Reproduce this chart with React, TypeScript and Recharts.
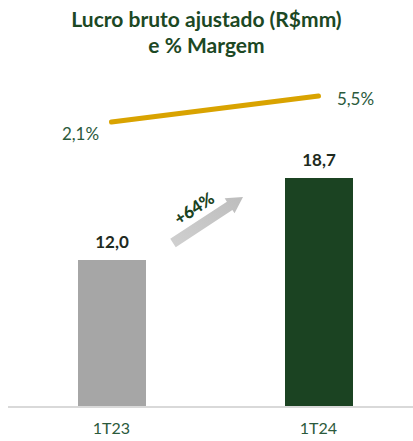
import React from 'react';
import { ComposedChart, Bar, Line, XAxis, YAxis, LabelList, Cell } from 'recharts';

const categories = ['1T23', '1T24'];
const lucroBruto = [12.0, 18.7];
const margem = [2.1, 5.5];
const barColors = ['#a6a6a6', '#1b4322'];
const growthLabel = '+64%';
const titleLines = ['Lucro bruto ajustado (R$mm)', 'e % Margem'];

const data = categories.map((c, i) => ({ cat: c, lucro: lucroBruto[i], margem: margem[i] }));

const FONT = 'Lato, "Open Sans", sans-serif';
const GREEN_TEXT = '#2b5a3c';
const fmt = (v: number, d: number) => v.toFixed(d).replace('.', ',');

const BarLabel = (props: any) => {
  const { x, y, width, value, index } = props;
  const cx = x + width / 2;
  const out: React.ReactNode[] = [
    <text key="v" x={cx} y={y - 12} textAnchor="middle" fontFamily={FONT} fontWeight={700} fontSize={17} fill="#1e2a20">
      {fmt(value, 1)}
    </text>,
  ];
  if (index === 0) {
    const tx = x + width + 27, ty = y - 17;
    const hx = x + width + 97, hy = y - 63;
    const dx = hx - tx, dy = hy - ty;
    const L = Math.sqrt(dx * dx + dy * dy);
    const ux = dx / L, uy = dy / L;
    const px = -uy, py = ux;
    const sw = 5, hw = 9, hl = 16;
    const bx = hx - ux * hl, by = hy - uy * hl;
    const pts = [
      [tx + px * sw, ty + py * sw],
      [bx + px * sw, by + py * sw],
      [bx + px * hw, by + py * hw],
      [hx, hy],
      [bx - px * hw, by - py * hw],
      [bx - px * sw, by - py * sw],
      [tx - px * sw, ty - py * sw],
    ].map((p) => p.join(',')).join(' ');
    const ang = (Math.atan2(dy, dx) * 180) / Math.PI;
    const lx = x + width + 48, ly = y - 52;
    out.push(
      <defs key="g">
        <linearGradient id="arrowGrad" x1="0" y1="1" x2="1" y2="0">
          <stop offset="0%" stopColor="#d0d0d0" />
          <stop offset="100%" stopColor="#bdbdbd" />
        </linearGradient>
      </defs>,
      <polygon key="a" points={pts} fill="url(#arrowGrad)" />,
      <text key="t" x={lx} y={ly} textAnchor="middle" dominantBaseline="central" transform={`rotate(${ang} ${lx} ${ly})`} fontFamily={FONT} fontWeight={900} fontSize={17} fill="#1b4322">
        {growthLabel}
      </text>
    );
  }
  return <g>{out}</g>;
};

const LineLabel = (props: any) => {
  const { x, y, value, index } = props;
  const first = index === 0;
  return (
    <text x={x + (first ? -31 : 37)} y={y + (first ? 11 : 2)} textAnchor="middle" dominantBaseline="central" fontFamily={FONT} fontSize={17} fill={GREEN_TEXT}>
      {fmt(value, 1)}%
    </text>
  );
};

export default function App() {
  return (
    <div style={{ position: 'absolute', left: 0, top: 0, width: 413, height: 441, overflow: 'hidden', background: '#fff' }}>
      <div style={{ position: 'absolute', left: 0, top: 6, width: 413, textAlign: 'center', fontFamily: FONT, fontWeight: 700, fontSize: 21, lineHeight: '26px', color: '#1c4824' }}>
        {titleLines.map((t) => (
          <div key={t}>{t}</div>
        ))}
      </div>
      <ComposedChart width={422} height={441} data={data} margin={{ top: 80, right: 0, left: 8, bottom: 4 }} barCategoryGap={0}>
        <XAxis dataKey="cat" axisLine={{ stroke: '#d9d9d9', strokeWidth: 2 }} tickLine={false} tickMargin={10} height={30} tick={{ fontFamily: FONT, fontSize: 16, fill: GREEN_TEXT }} />
        <YAxis yAxisId="l" hide domain={[0, 26.7]} />
        <YAxis yAxisId="r" orientation="right" hide domain={[-35.15, 7.6]} allowDataOverflow />
        <Bar yAxisId="l" dataKey="lucro" barSize={68} isAnimationActive={false}>
          {data.map((_, i) => (
            <Cell key={i} fill={barColors[i]} />
          ))}
          <LabelList dataKey="lucro" content={BarLabel} />
        </Bar>
        <Line yAxisId="r" dataKey="margem" stroke="#d9a300" strokeWidth={5} strokeLinecap="round" dot={false} isAnimationActive={false}>
          <LabelList dataKey="margem" content={LineLabel} />
        </Line>
      </ComposedChart>
    </div>
  );
}
